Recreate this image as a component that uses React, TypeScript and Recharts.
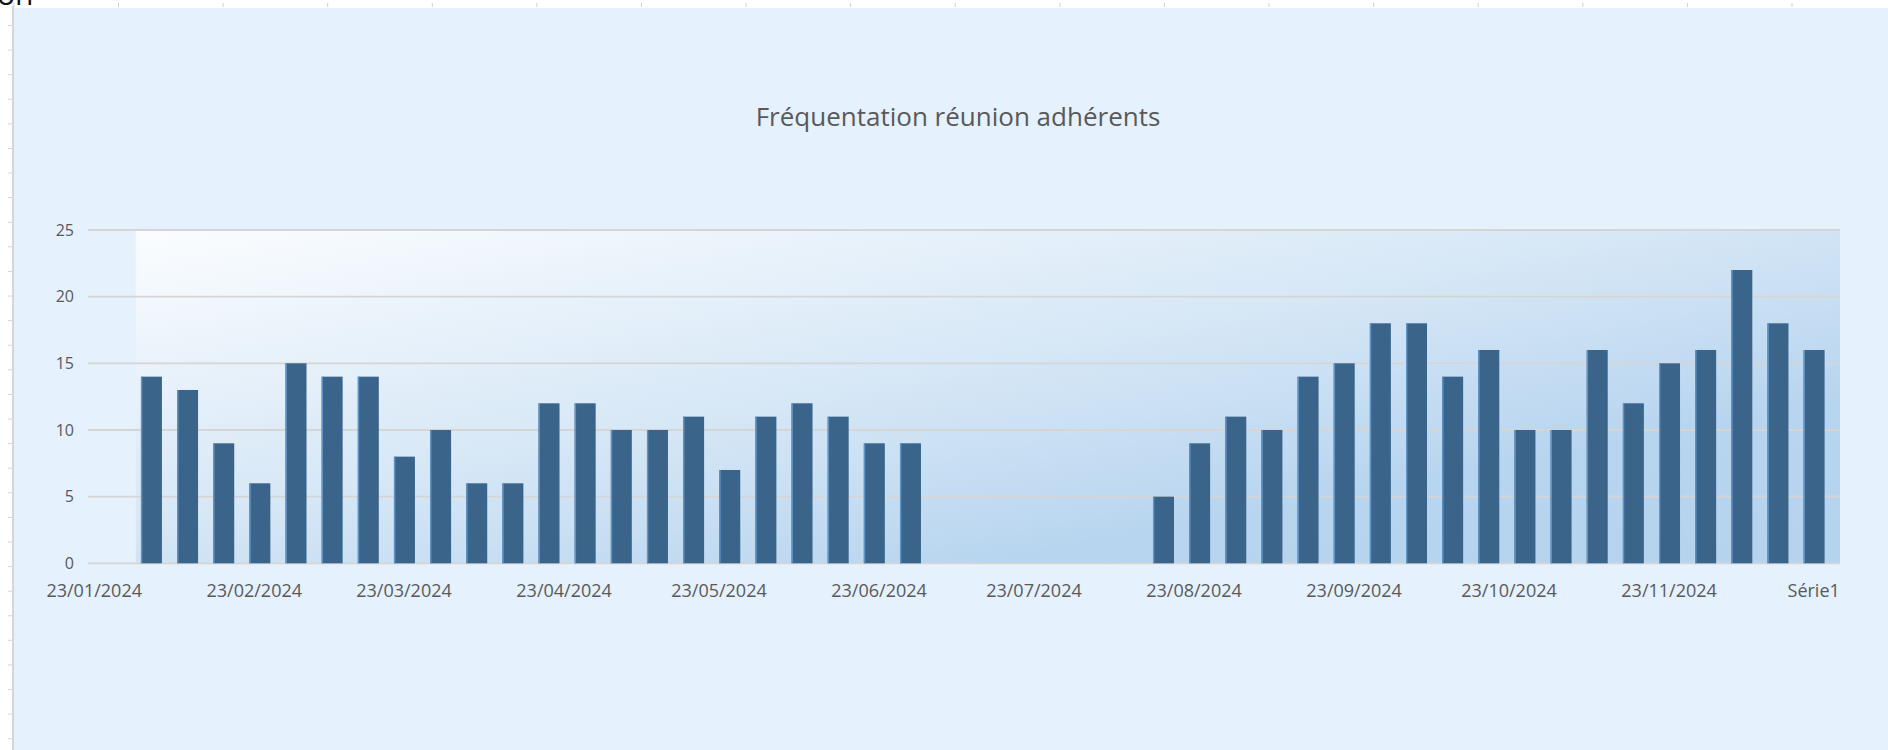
import React from 'react';
import { BarChart, Bar, XAxis, YAxis, CartesianGrid, ReferenceArea } from 'recharts';

const chartTitle = 'Fréquentation réunion adhérents';

const meetingDates = [
  '03/02/2024', '10/02/2024', '17/02/2024', '24/02/2024', '02/03/2024', '09/03/2024',
  '16/03/2024', '23/03/2024', '30/03/2024', '06/04/2024', '13/04/2024', '20/04/2024',
  '27/04/2024', '04/05/2024', '11/05/2024', '18/05/2024', '25/05/2024', '01/06/2024',
  '08/06/2024', '15/06/2024', '22/06/2024', '29/06/2024',
  '17/08/2024', '24/08/2024', '31/08/2024', '07/09/2024', '14/09/2024', '21/09/2024',
  '28/09/2024', '05/10/2024', '12/10/2024', '19/10/2024', '26/10/2024', '02/11/2024',
  '09/11/2024', '16/11/2024', '23/11/2024', '30/11/2024', '07/12/2024', '14/12/2024',
  '21/12/2024',
];

const attendance = [
  14, 13, 9, 6, 15, 14, 14, 8, 10, 6, 6, 12, 12, 10, 10, 11, 7, 11, 12, 11, 9, 9,
  5, 9, 11, 10, 14, 15, 18, 18, 14, 16, 10, 10, 16, 12, 15, 16, 22, 18, 16,
];

const yTicks = [0, 5, 10, 15, 20, 25];

const xTickDates = [
  '23/01/2024', '23/02/2024', '23/03/2024', '23/04/2024', '23/05/2024', '23/06/2024',
  '23/07/2024', '23/08/2024', '23/09/2024', '23/10/2024', '23/11/2024', '21/12/2024',
];
const xTickLabels = [
  '23/01/2024', '23/02/2024', '23/03/2024', '23/04/2024', '23/05/2024', '23/06/2024',
  '23/07/2024', '23/08/2024', '23/09/2024', '23/10/2024', '23/11/2024', 'Série1',
];

// axis extent in days of year 2024 (0 = 1 Jan)
const xDomain: [number, number] = [20.8, 360.1];
const plotFillStart = 30.05;

const dayOfYear = (s: string) => {
  const [d, m, y] = s.split('/').map(Number);
  return (Date.UTC(y, m - 1, d) - Date.UTC(2024, 0, 1)) / 86400000;
};

const data = meetingDates.map((d, i) => ({ day: dayOfYear(d), date: d, value: attendance[i] }));
const xTicks = xTickDates.map(dayOfYear);

const FONT = '"Open Sans", "Noto Sans", sans-serif';
const TEXT = '#595959';

const BarShape = (props: any) => {
  const { x, y, width, height } = props;
  if (!height || height <= 0) return null;
  return (
    <g>
      <rect x={x} y={y} width={width} height={height} fill="#3A6489" />
      <rect x={x} y={y} width={1.4} height={height} fill="#5F94C7" />
    </g>
  );
};

export default function App() {
  return (
    <div style={{ position: 'absolute', left: 0, top: 0, width: 1888, height: 750, background: '#ffffff', overflow: 'hidden' }}>
      <svg width={0} height={0} style={{ position: 'absolute' }}>
        <defs>
          <linearGradient id="plotGrad" x1="0" y1="0" x2="1" y2="1">
            <stop offset="0" stopColor="#FBFDFF" />
            <stop offset="0.45" stopColor="#D6E7F6" />
            <stop offset="0.75" stopColor="#B8D5EF" />
            <stop offset="1" stopColor="#B6D3EE" />
          </linearGradient>
        </defs>
      </svg>
      {/* spreadsheet column marks */}
      <div
        style={{
          position: 'absolute', left: 0, top: 3, width: 1888, height: 4,
          backgroundImage: 'linear-gradient(to right, #cfcfcf 0 1px, transparent 1px)',
          backgroundSize: '104.6px 4px', backgroundPosition: '118px 0', backgroundRepeat: 'repeat-x',
        }}
      />
      {/* spreadsheet row marks */}
      <div
        style={{
          position: 'absolute', left: 8, top: 0, width: 5, height: 750,
          backgroundImage: 'linear-gradient(to bottom, #d4d4d4 0 1px, transparent 1px)',
          backgroundSize: '5px 24.6px', backgroundPosition: '0 25px', backgroundRepeat: 'repeat-y',
        }}
      />
      <div style={{ position: 'absolute', left: 12, top: 6, width: 2, height: 744, background: '#D6D6D6' }} />
      <div style={{ position: 'absolute', left: 14, top: 8, width: 1874, height: 742, background: '#E5F1FD' }} />

      <div style={{ position: 'absolute', left: 0, top: 0 }}>
        <BarChart
          width={1888}
          height={750}
          data={data}
          margin={{ top: 230, right: 48, bottom: 146.7, left: 0 }}
        >
          <ReferenceArea
            x1={plotFillStart}
            x2={xDomain[1]}
            y1={0}
            y2={25}
            fill="url(#plotGrad)"
            fillOpacity={1}
            stroke="none"
            zIndex={-150}
          />
          <CartesianGrid vertical={false} stroke="#D5D5D5" strokeWidth={1.8} />
          <XAxis
            dataKey="day"
            type="number"
            domain={xDomain}
            ticks={xTicks}
            interval={0}
            allowDataOverflow
            axisLine={false}
            tickLine={false}
            height={40}
            tickMargin={15}
            tickFormatter={(v: number) => xTickLabels[xTicks.indexOf(v)] ?? ''}
            tick={{ fill: TEXT, fontSize: 18, fontFamily: FONT }}
          />
          <YAxis
            domain={[0, 25]}
            ticks={yTicks}
            interval={0}
            width={88}
            axisLine={false}
            tickLine={false}
            tickMargin={8}
            tick={{ fill: TEXT, fontSize: 16, fontFamily: FONT }}
          />
          <Bar dataKey="value" name="Série1" barSize={21} shape={BarShape} isAnimationActive={false} />
        </BarChart>
      </div>

      <svg width={1888} height={750} style={{ position: 'absolute', left: 0, top: 0, pointerEvents: 'none' }}>
        <text x={-3} y={5} fill="#111111" fontSize={30} fontFamily={FONT}>on</text>
        <text x={958} y={126} textAnchor="middle" fill={TEXT} fontSize={26} fontFamily={FONT}>
          {chartTitle}
        </text>
      </svg>
    </div>
  );
}
